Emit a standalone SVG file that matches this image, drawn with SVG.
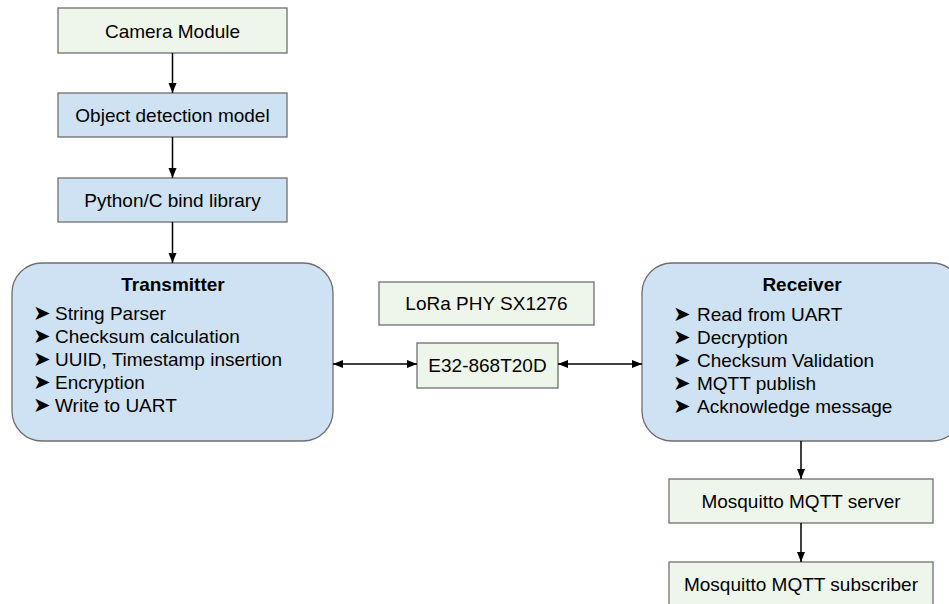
<svg xmlns="http://www.w3.org/2000/svg" width="949" height="604" viewBox="0 0 949 604">
<defs>
<marker id="ah" viewBox="0 0 10 10" refX="10" refY="5" markerWidth="10" markerHeight="10" markerUnits="userSpaceOnUse" orient="auto-start-reverse">
<path d="M0,1 L10,5 L0,9 Z" fill="#000"/>
</marker>
<style>
.g{fill:#eef5ea;stroke:#6f6f6f;stroke-width:1.3}
.b{fill:#cfe2f3;stroke:#6f6f6f;stroke-width:1.3}
.t{font-family:"Liberation Sans",Arial,sans-serif;font-size:19px;fill:#000}
.tc{text-anchor:middle}
.bold{font-weight:bold}
.bu{font-family:"DejaVu Sans",sans-serif;font-size:21px}
.c{stroke:#000;stroke-width:1.5;fill:none}
</style>
</defs>
<rect width="949" height="604" fill="#fff"/>
<g id="camera"><rect class="g" x="58" y="8" width="229" height="45"/><text class="t tc" x="172.5" y="37.5">Camera Module</text></g>
<g id="objdet"><rect class="b" x="58" y="93" width="229" height="44"/><text class="t tc" x="172.5" y="122">Object detection model</text></g>
<g id="pybind"><rect class="b" x="58" y="178" width="229" height="44"/><text class="t tc" x="172.5" y="207">Python/C bind library</text></g>
<g id="transmitter"><rect class="b" x="12" y="263" width="321" height="178" rx="30" ry="30"/>
<text class="t tc bold" x="173" y="291">Transmitter</text>
<text class="t" x="33" y="320"><tspan class="bu">➤</tspan><tspan x="55">String Parser</tspan></text>
<text class="t" x="33" y="343"><tspan class="bu">➤</tspan><tspan x="55">Checksum calculation</tspan></text>
<text class="t" x="33" y="366"><tspan class="bu">➤</tspan><tspan x="55">UUID, Timestamp insertion</tspan></text>
<text class="t" x="33" y="389"><tspan class="bu">➤</tspan><tspan x="55">Encryption</tspan></text>
<text class="t" x="33" y="412"><tspan class="bu">➤</tspan><tspan x="55">Write to UART</tspan></text>
</g>
<g id="lora"><rect class="g" x="379" y="282" width="215" height="43"/><text class="t tc" x="486.5" y="310">LoRa PHY SX1276</text></g>
<g id="e32"><rect class="g" x="417" y="343" width="141" height="45"/><text class="t tc" x="487.5" y="372">E32-868T20D</text></g>
<g id="receiver"><rect class="b" x="642" y="263" width="320" height="178" rx="30" ry="30"/>
<text class="t tc bold" x="802" y="291">Receiver</text>
<text class="t" x="673" y="321"><tspan class="bu">➤</tspan><tspan x="697">Read from UART</tspan></text>
<text class="t" x="673" y="344"><tspan class="bu">➤</tspan><tspan x="697">Decryption</tspan></text>
<text class="t" x="673" y="367"><tspan class="bu">➤</tspan><tspan x="697">Checksum Validation</tspan></text>
<text class="t" x="673" y="390"><tspan class="bu">➤</tspan><tspan x="697">MQTT publish</tspan></text>
<text class="t" x="673" y="413"><tspan class="bu">➤</tspan><tspan x="697">Acknowledge message</tspan></text>
</g>
<g id="mqttserver"><rect class="g" x="669" y="479" width="264" height="44"/><text class="t tc" x="801" y="508">Mosquitto MQTT server</text></g>
<g id="mqttsub"><rect class="g" x="669" y="562" width="264" height="50"/><text class="t tc" x="801" y="591">Mosquitto MQTT subscriber</text></g>
<g id="connectors">
<line class="c" x1="172.5" y1="53" x2="172.5" y2="93" marker-end="url(#ah)"/>
<line class="c" x1="172.5" y1="137" x2="172.5" y2="178" marker-end="url(#ah)"/>
<line class="c" x1="172.5" y1="222" x2="172.5" y2="263" marker-end="url(#ah)"/>
<line class="c" x1="333" y1="364" x2="417" y2="364" marker-start="url(#ah)" marker-end="url(#ah)"/>
<line class="c" x1="558" y1="364" x2="642" y2="364" marker-start="url(#ah)" marker-end="url(#ah)"/>
<line class="c" x1="801" y1="441" x2="801" y2="479" marker-end="url(#ah)"/>
<line class="c" x1="801" y1="523" x2="801" y2="562" marker-end="url(#ah)"/>
</g>
</svg>
